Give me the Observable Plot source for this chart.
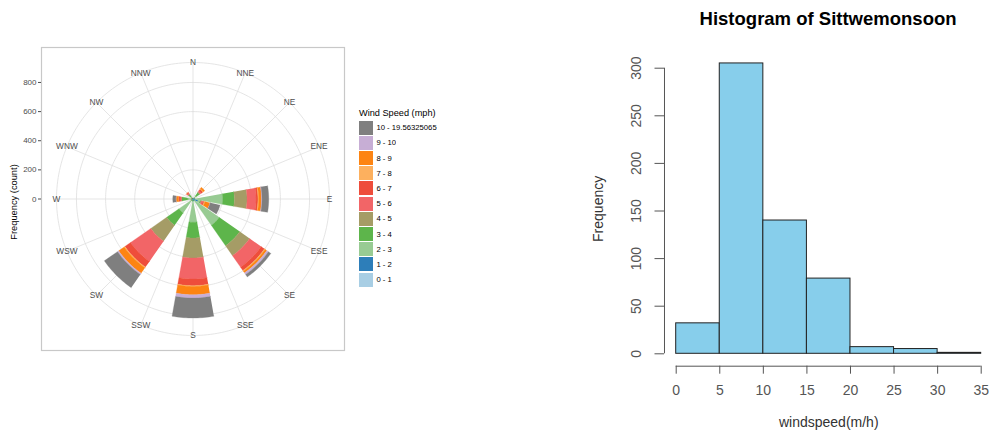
<!DOCTYPE html>
<html>
<head>
<meta charset="utf-8">
<script src="https://cdn.jsdelivr.net/npm/d3@7"></script>
<script src="https://cdn.jsdelivr.net/npm/@observablehq/plot@0.6"></script>
<style>
  body { margin: 0; background: #fff; }
  #wrap { position: relative; width: 992px; height: 435px; overflow: hidden; background: #fff;
          font-family: 'Liberation Sans', Arial, Helvetica, sans-serif; }
  #rose { position: absolute; left: 0; top: 0; }
  #hist { position: absolute; left: 580px; top: 0; }
  #legend { position: absolute; left: 359px; top: 107px; }
  #legend .ltitle { font-size: 9.2px; line-height: 12px; color: #000; margin-bottom: 1.7px; white-space: nowrap; }
  #legend .wr-swatches { font-family: 'Liberation Sans', Arial, sans-serif; font-size: 7.7px; margin: 0; color: #000; }
  #legend .wr-swatch { padding-bottom: 1.2px; }
  #legend .wr-swatch > svg { margin-right: 3.4px; }
</style>
</head>
<body>
<div id="wrap">
  <div id="rose"></div>
  <div id="legend"><div class="ltitle">Wind Speed (mph)</div></div>
  <div id="hist"></div>
</div>
<script>
// ---------------- Wind rose data ----------------
const directions = ["N","NNE","NE","ENE","E","ESE","SE","SSE","S","SSW","SW","WSW","W","WNW","NW","NNW"];
const speedBins = ["0 - 1","1 - 2","2 - 3","3 - 4","4 - 5","5 - 6","6 - 7","7 - 8","8 - 9","9 - 10","10 - 19.56325065"];
const speedColors = ["#A8CEE4","#2D7EB9","#98CB93","#5DB54B","#A59C66","#F26567","#EE4D3B","#FDB05E","#FD8412","#C7AED5","#7F7F7F"];

// counts per speed bin (same order as speedBins) for each direction
const freqN   = [0, 1, 2, 1, 0, 0, 0, 0, 0, 0, 0];
const freqNNE = [0, 1, 3, 2, 1, 0, 0, 0, 0, 0, 0];
const freqNE  = [2, 4, 20, 28, 6, 10, 12, 4, 12, 0, 0];
const freqENE = [1, 2, 6, 4, 1, 0, 0, 0, 0, 0, 0];
const freqE   = [3, 8, 193, 80, 87, 62, 13, 5, 19, 4, 46];
const freqESE = [5, 30, 15, 5, 3, 12, 8, 6, 35, 2, 69];
const freqSE  = [4, 10, 206, 171, 83, 96, 28, 6, 14, 14, 20];
const freqSSE = [1, 3, 8, 2, 0, 0, 0, 0, 0, 0, 0];
const freqS   = [3, 12, 145, 108, 137, 144, 46, 5, 57, 23, 137];
const freqSSW = [1, 3, 8, 3, 0, 0, 0, 0, 0, 0, 0];
const freqSW  = [3, 10, 104, 103, 133, 169, 48, 6, 46, 10, 110];
const freqWSW = [1, 2, 8, 4, 1, 0, 0, 0, 0, 0, 0];
const freqW   = [2, 5, 30, 39, 4, 10, 8, 2, 16, 2, 21];
const freqWNW = [0, 1, 4, 3, 1, 1, 0, 0, 0, 0, 0];
const freqNW  = [1, 2, 14, 20, 5, 8, 6, 2, 0, 0, 0];
const freqNNW = [0, 1, 3, 2, 0, 0, 0, 0, 0, 0, 0];

const radialTicks = [0, 200, 400, 600, 800];

// ---------------- Histogram data ----------------
const histBreaks = [0, 5, 10, 15, 20, 25, 30, 35];
const histCounts = [32, 305, 140, 79, 7, 5, 1];
const histYTicks = [0, 50, 100, 150, 200, 250, 300];

// ---------------- Wind rose construction ----------------
const roseFreq = [freqN, freqNNE, freqNE, freqENE, freqE, freqESE, freqSE, freqSSE,
                  freqS, freqSSW, freqSW, freqWSW, freqW, freqWNW, freqNW, freqNNW];
const half = 1040;          // half-extent of the square panel, in counts
const rOuter = 937;         // outer circle / direction label radius, in counts
const step = 360 / directions.length;
const petalWidth = 0.9 * step;
const rad = Math.PI / 180;

const wedgePts = [];
directions.forEach((d, i) => {
  let cum = 0;
  roseFreq[i].forEach((v, j) => {
    if (v <= 0) return;
    const r0 = cum, r1 = cum + v;
    cum = r1;
    const id = d + "-" + j;
    const n = 18;
    for (let s = 0; s <= n; s++) {
      const a = (i * step - petalWidth / 2 + petalWidth * s / n) * rad;
      wedgePts.push({id, bin: speedBins[j], x: r1 * Math.sin(a), y: r1 * Math.cos(a)});
    }
    for (let s = n; s >= 0; s--) {
      const a = (i * step - petalWidth / 2 + petalWidth * s / n) * rad;
      wedgePts.push({id, bin: speedBins[j], x: r0 * Math.sin(a), y: r0 * Math.cos(a)});
    }
  });
});

const ringPts = [];
radialTicks.filter(r => r > 0).concat([rOuter]).forEach(r => {
  for (let s = 0; s <= 240; s++) {
    const a = s / 240 * 2 * Math.PI;
    ringPts.push({ring: r, x: r * Math.sin(a), y: r * Math.cos(a)});
  }
});
const spokes = directions.map((d, i) => ({d, x: rOuter * Math.sin(i * step * rad), y: rOuter * Math.cos(i * step * rad)}));

const legendDomain = speedBins.slice().reverse();
const legendRange = speedColors.slice().reverse();

const rose = Plot.plot({
  width: 355, height: 365,
  marginLeft: 41, marginTop: 47, marginRight: 11, marginBottom: 15,
  x: {domain: [-half, half], axis: null},
  y: {domain: [-half, half], axis: null},
  color: {type: "ordinal", domain: legendDomain, range: legendRange},
  style: {fontFamily: "'Liberation Sans', Arial, sans-serif", background: "#fff", overflow: "visible"},
  marks: [
    Plot.line(ringPts, {x: "x", y: "y", z: "ring", stroke: "#DEDEDE", strokeWidth: 0.8}),
    Plot.link(spokes, {x1: 0, y1: 0, x2: "x", y2: "y", stroke: "#DEDEDE", strokeWidth: 0.8}),
    Plot.line(wedgePts, {x: "x", y: "y", z: "id", fill: "bin", stroke: "bin", strokeWidth: 0.3, curve: "linear"}),
    Plot.text(spokes, {x: "x", y: "y", text: "d", fontSize: 8.3, fill: "#4D4D4D"}),
    Plot.frame({stroke: "#C8C8C8", strokeWidth: 1.2}),
    Plot.axisY(radialTicks, {tickSize: 3, tickPadding: 2, fontSize: 8, color: "#4D4D4D", label: null}),
    Plot.text(["Frequency (count)"], {frameAnchor: "left", textAnchor: "middle", dx: -27, dy: 3, rotate: -90, fontSize: 9.3, fill: "#000"})
  ]
});
document.getElementById("rose").appendChild(rose);

const legend = rose.legend("color", {columns: 1, swatchSize: 14, className: "wr"});
document.getElementById("legend").appendChild(legend);

// ---------------- Histogram ----------------
const histData = histCounts.map((c, i) => ({x0: histBreaks[i], x1: histBreaks[i + 1], count: c}));
const hist = Plot.plot({
  width: 412, height: 435,
  marginLeft: 84, marginRight: 11.3, marginTop: 60, marginBottom: 69.3,
  x: {domain: [0, 35], range: [95.7, 400.7], axis: null},
  y: {domain: [0, 300], range: [353.3, 67.7], axis: null},
  style: {fontFamily: "'Liberation Sans', Arial, sans-serif", background: "#fff", overflow: "visible"},
  marks: [
    Plot.rectY(histData, {x1: "x0", x2: "x1", y: "count", fill: "#87CEEB", stroke: "#222", strokeWidth: 1}),
    Plot.ruleX([0], {y1: 0, y2: 300, dx: -11.7, stroke: "#555"}),
    Plot.ruleY([0], {x1: 0, x2: 35, dy: 12.4, stroke: "#555"}),
    Plot.axisY(histYTicks, {tickSize: 9.5, tickRotate: -90, tickPadding: 13.8, fontSize: 14, color: "#555", label: null}),
    Plot.axisX(histBreaks, {tickSize: 8, tickPadding: 11.3, fontSize: 14, color: "#555", label: null}),
    Plot.text(["Histogram of Sittwemonsoon"], {frameAnchor: "top", dx: 5.2, dy: -49, fontSize: 18.5, fontWeight: "bold", fill: "#000"}),
    Plot.text(["windspeed(m/h)"], {frameAnchor: "bottom", dx: 5.9, dy: 61, fontSize: 14, fill: "#333"}),
    Plot.text(["Frequency"], {frameAnchor: "left", textAnchor: "middle", dx: -66, dy: -4.5, rotate: -90, fontSize: 14, fill: "#333"})
  ]
});
document.getElementById("hist").appendChild(hist);
</script>
</body>
</html>
